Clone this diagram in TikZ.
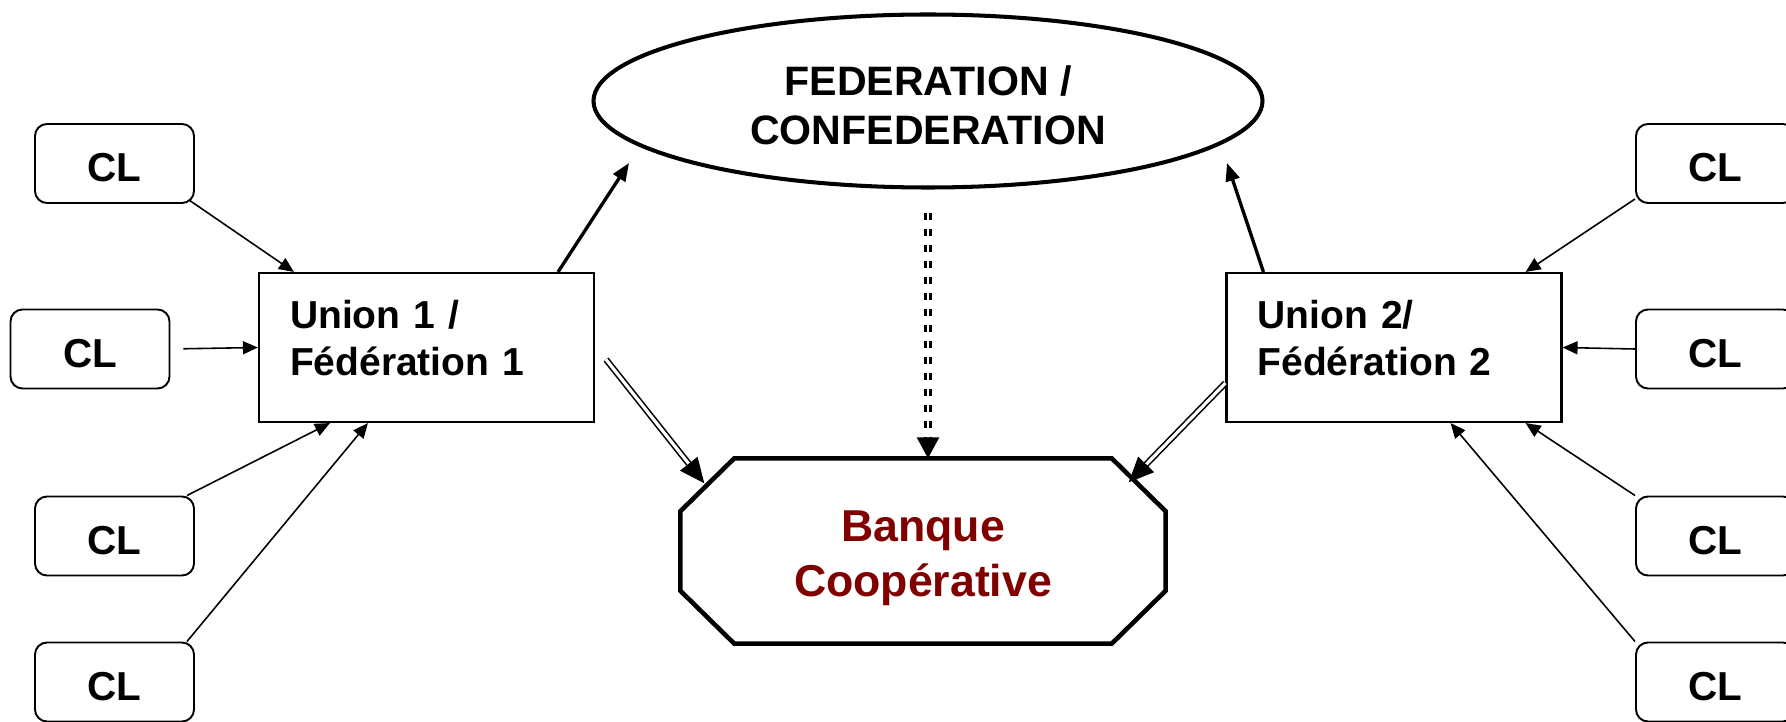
\documentclass[tikz,border=0pt]{standalone}
\usepackage{fontspec}
\setmainfont{Liberation Sans}
\usetikzlibrary{arrows.meta,shapes.geometric}
\definecolor{bordeaux}{RGB}{128,0,0}
\tikzset{
	clbox/.style={draw,rounded corners=0.12cm,line width=0.55pt,minimum width=1.59cm,minimum height=0.79cm,inner sep=0pt,text height=0.37cm,text depth=0cm,font=\fontsize{11.5}{13}\selectfont\bfseries},
	unionbox/.style={draw,line width=0.6pt,minimum width=3.35cm,minimum height=1.49cm,text width=2.73cm,align=left,inner xsep=0.31cm,inner ysep=0pt,text height=0.285cm,text depth=0.675cm,font=\fontsize{11.1}{13.65}\selectfont\bfseries},
	fin/.style={-{Triangle[length=0.15cm,width=0.13cm]},line width=0.45pt},
	epais/.style={-{Triangle[length=0.18cm,width=0.14cm]},line width=0.95pt},
	dbl/.style={double,double distance=0.9pt,line width=0.45pt,-{Triangle[length=0.25cm,width=0.22cm]}},
	pointille/.style={double,double distance=0.6pt,line width=0.8pt,dash pattern=on 1.9pt off 2.65pt,-{Triangle[length=0.21cm,width=0.22cm]}}
}

\begin{document}
\begin{tikzpicture}
	\useasboundingbox (0,0) rectangle (17.86,-7.22);
	% caisses locales
	\foreach \n/\x/\y in {1/1.145/-1.635,2/0.90/-3.49,3/1.145/-5.36,4/1.145/-6.82}{
		\node[clbox] (clg\n) at (\x,\y) {CL};
	}
	\foreach \n/\y in {1/-1.635,2/-3.49,3/-5.36,4/-6.82}{
		\node[clbox] (cld\n) at (17.155,\y) {CL};
	}
	
	\node[unionbox] (u1) at (4.265,-3.475) {Union 1 /\\Fédération 1};
	\node[unionbox] (u2) at (13.94,-3.475) {Union 2/\\Fédération 2};
	\node[draw,ellipse,line width=1.15pt,minimum width=6.69cm,minimum height=1.73cm,inner sep=0pt,align=center,text height=0.88cm,text depth=0cm,font=\fontsize{11.7}{14.2}\selectfont\bfseries] (fed) at (9.28,-1.01) {FEDERATION /\\CONFEDERATION};
	\node[minimum width=4.84cm,minimum height=1.84cm,inner sep=0pt,align=center,text=bordeaux,text height=1.01cm,text depth=0.094cm,font=\fontsize{12.7}{15.6}\selectfont\bfseries] (bq) at (9.23,-5.51) {Banque\\Coopérative};
	\draw[line width=1.3pt] ([xshift=0.54cm]bq.north west) -- ([xshift=-0.54cm]bq.north east) -- ([yshift=-0.53cm]bq.north east) -- ([yshift=0.53cm]bq.south east) -- ([xshift=-0.54cm]bq.south east) -- ([xshift=0.54cm]bq.south west) -- ([yshift=0.53cm]bq.south west) -- ([yshift=-0.53cm]bq.north west) -- cycle;
	
	\draw[fin] ([shift={(-0.06,0.04)}]clg1.south east) -- ([xshift=0.36cm]u1.north west);
	\draw[fin,shorten <=0.13cm] (clg2.east) -- (u1.west);
	\draw[fin] ([xshift=-0.08cm]clg3.north east) -- ([xshift=0.72cm]u1.south west);
	\draw[fin] ([xshift=-0.08cm]clg4.north east) -- ([xshift=1.1cm]u1.south west);
	\draw[fin] ([yshift=0.05cm]cld1.south west) -- ([xshift=-0.37cm]u2.north east);
	\draw[fin] (cld2.west) -- (u2.east);
	\draw[fin] (cld3.north west) -- ([xshift=-0.37cm]u2.south east);
	\draw[fin] (cld4.north west) -- ([xshift=-1.12cm]u2.south east);
	
	\draw[epais] ([xshift=-0.37cm]u1.north east) -- ([shift={(-2.99,-0.62)}]fed.center);
	\draw[epais] ([xshift=0.38cm]u2.north west) -- ([shift={(2.99,-0.62)}]fed.center);
	\draw[dbl] ([shift={(0.11,-0.12)}]u1.east) -- ([shift={(0.24,-0.25)}]bq.north west);
	\draw[dbl] ([yshift=-0.355cm]u2.west) -- ([shift={(-0.37,-0.24)}]bq.north east);
	\draw[pointille,shorten <=0.235cm] (fed.south) -- (fed.south |- bq.north);
\end{tikzpicture}
\end{document}
